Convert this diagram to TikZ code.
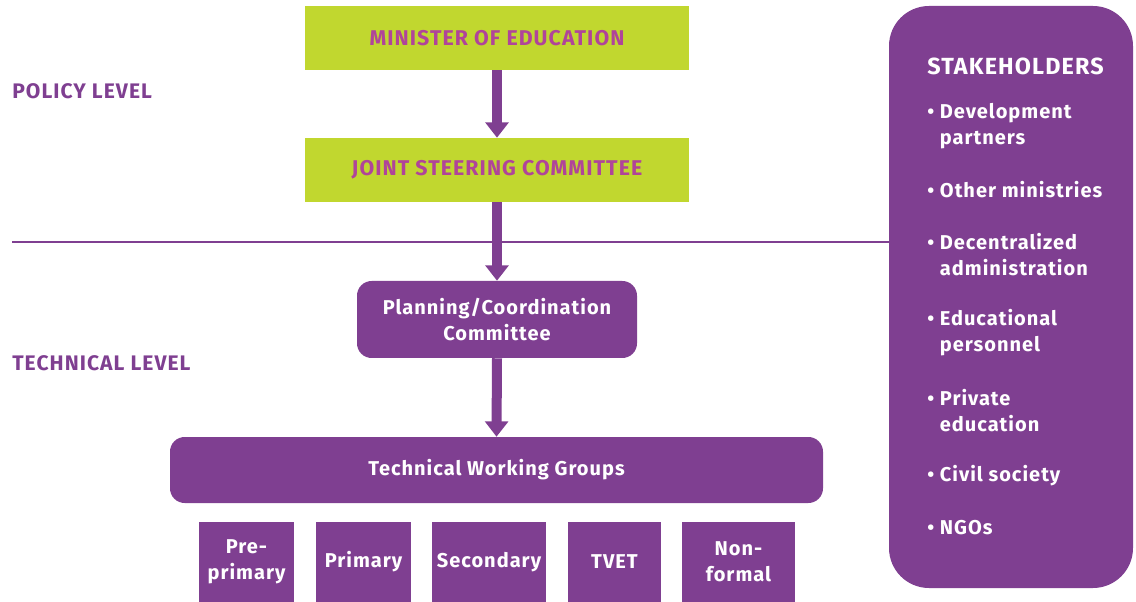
\documentclass[tikz,border=0pt]{standalone}
\usepackage{fontspec}
\setmainfont{Fira Sans}[LetterSpace=5]
\usetikzlibrary{arrows.meta}
\definecolor{purp}{HTML}{7F3F91}
\definecolor{lime}{HTML}{C1D72F}
\definecolor{magt}{HTML}{B0449A}
\tikzset{
  greenbox/.style={rectangle, fill=lime, minimum width=288pt, minimum height=48pt, inner sep=0pt,
    text=magt, font=\bfseries\fontsize{16}{18}\selectfont},
  purpbox/.style={rectangle, fill=purp, rounded corners=11pt, inner sep=0pt,
    text=white, align=center, font=\bfseries\fontsize{15}{19.5}\selectfont},
  subbox/.style={rectangle, fill=purp, inner sep=0pt, minimum height=60pt,
    text=white, align=center, font=\bfseries\fontsize{15}{19.5}\selectfont},
  levellabel/.style={anchor=west, inner sep=0pt, text=purp, font=\bfseries\fontsize{15.8}{18}\selectfont},
  stkitem/.style={anchor=west, inner sep=0pt, text=white, align=left, font=\bfseries\fontsize{15}{19.5}\selectfont},
  arr/.style={draw=purp, line width=7.5pt, -{Triangle[width=17pt,length=11.5pt]}},
  divider/.style={draw=purp, line width=1.6pt}
}
\begin{document}
\begin{tikzpicture}[x=0.75pt,y=-0.75pt]
\useasboundingbox (0,0) rectangle (1136,602);
% policy level
\node[greenbox] (min) at (497,38) {MINISTER OF EDUCATION};
\node[greenbox] (jsc) at (497,170) {JOINT STEERING COMMITTEE};
% stakeholders box
\node[rectangle, fill=purp, rounded corners=30pt, minimum width=183pt, minimum height=436.5pt, inner sep=0pt] (stk) at (1011,297) {};
% divider
\coordinate (divL) at (12,242);
\draw[divider] (divL) -- (divL -| stk.west);
% technical level
\node[purpbox, minimum width=210pt, minimum height=57.75pt] (pcc) at (497,319.5) {Planning/Coordination\\Committee};
\node[purpbox, minimum width=489.75pt, minimum height=49.5pt] (twg) at (496.5,470) {Technical Working Groups};
\node[subbox, minimum width=71.25pt] (pre) at (246.5,562) {Pre-\\primary};
\node[subbox, minimum width=71.25pt] (pri) at (363.5,562) {Primary};
\node[subbox, minimum width=85.5pt] (sec) at (489,562) {Secondary};
\node[subbox, minimum width=69.75pt] (tvet) at (614.5,562) {TVET};
\node[subbox, minimum width=84.75pt] (nfe) at (738.5,562) {Non-\\formal};
% arrows
\draw[arr] (min.south) -- (jsc.north);
\draw[arr] (jsc.south) -- (pcc.north);
\draw[arr] (pcc.south) -- (twg.north);
% level labels
\node[levellabel] (pol) at (12,91) {POLICY LEVEL};
\node[levellabel] (tec) at (12,363) {TECHNICAL LEVEL};
% stakeholder texts
\node[stkitem, font=\bfseries\fontsize{17.5}{20}\selectfont] (sth) at (927,66) {STAKEHOLDERS};
\node[stkitem] (s1) at (927,126) {• Development\\\phantom{• }partners};
\node[stkitem] (s2) at (927,190) {• Other ministries};
\node[stkitem] (s3) at (927,255) {• Decentralized\\\phantom{• }administration};
\node[stkitem] (s4) at (927,333) {• Educational\\\phantom{• }personnel};
\node[stkitem] (s5) at (927,411) {• Private\\\phantom{• }education};
\node[stkitem] (s6) at (927,476) {• Civil society};
\node[stkitem] (s7) at (927,528) {• NGOs};
\end{tikzpicture}
\end{document}
